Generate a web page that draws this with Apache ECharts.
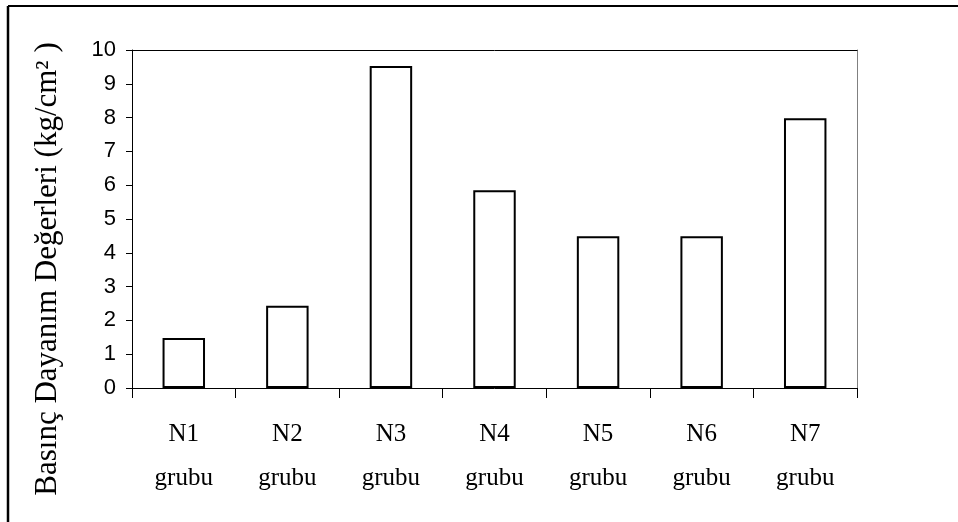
<!DOCTYPE html>
<html><head><meta charset="utf-8">
<script src="https://cdn.jsdelivr.net/npm/echarts@6/dist/echarts.min.js"></script>
<style>html,body{margin:0;padding:0;background:#fff}#c{width:958px;height:522px}</style>
</head><body><div id="c"></div>
<script>
const categories = ['N1\ngrubu','N2\ngrubu','N3\ngrubu','N4\ngrubu','N5\ngrubu','N6\ngrubu','N7\ngrubu'];
const values = [1.48, 2.43, 9.53, 5.85, 4.49, 4.49, 7.98];
const yTicks = [0, 10, 1]; // min, max, interval
const yTitle = 'Basınç Dayanım Değerleri (kg/cm² )';

const chart = echarts.init(document.getElementById('c'), null, {renderer:'canvas'});
chart.setOption({
  animation:false,
  backgroundColor:'#fff',
  grid:{left:132, right:101, top:50, bottom:134, containLabel:false},
  xAxis:[{
    type:'category', data:categories, boundaryGap:true,
    axisLine:{lineStyle:{color:'#000', width:1}},
    axisTick:{show:true, alignWithLabel:false, length:10, lineStyle:{color:'#000'}},
    axisLabel:{color:'#000', fontFamily:'Liberation Serif', fontSize:25, lineHeight:44, margin:24, interval:0},
    splitLine:{show:false}
  },{
    type:'category', data:categories, position:'top',
    axisLine:{onZero:false, lineStyle:{color:'#000', width:1}},
    axisTick:{show:false}, axisLabel:{show:false}, splitLine:{show:false}
  }],
  yAxis:[{
    type:'value', min:yTicks[0], max:yTicks[1], interval:yTicks[2],
    axisLine:{show:true, lineStyle:{color:'#000', width:1}},
    axisTick:{show:true, length:6, lineStyle:{color:'#000'}},
    axisLabel:{color:'#000', fontFamily:'Liberation Sans', fontSize:22, margin:16},
    splitLine:{show:false}
  },{
    type:'value', min:yTicks[0], max:yTicks[1], interval:yTicks[2], position:'right',
    axisLine:{show:true, onZero:false, lineStyle:{color:'#808080', width:1}},
    axisTick:{show:false}, axisLabel:{show:false}, splitLine:{show:false}
  }],
  series:[{
    type:'bar', data:values, barWidth:'41%',
    itemStyle:{color:'#fff', borderColor:'#000', borderWidth:2}
  }],
  graphic:[
    {type:'line', shape:{x1:8, y1:6, x2:958, y2:6}, style:{stroke:'#000', lineWidth:2}},
    {type:'line', shape:{x1:8, y1:6, x2:8, y2:522}, style:{stroke:'#000', lineWidth:2.5}},
    {type:'text', x:48, y:269, rotation:Math.PI/2,
     style:{text:yTitle, font:'31px "Liberation Serif"', fill:'#000', align:'center', verticalAlign:'middle'}}
  ]
});
</script></body></html>
